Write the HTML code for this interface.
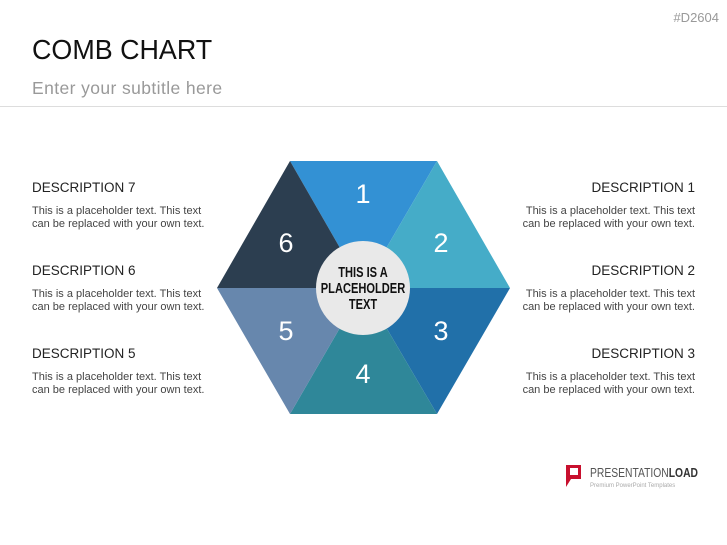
<!DOCTYPE html>
<html><head><meta charset="utf-8"><style>
body{margin:0;width:727px;height:545px;background:#fff;font-family:"Liberation Sans",sans-serif;position:relative;overflow:hidden}
.a{position:absolute;white-space:nowrap}
.h{font-size:13.5px;color:#222}
.p{font-size:11px;color:#444;line-height:13px}
.r{text-align:right}
</style></head><body>
<div class="a" style="right:8px;top:10px;font-size:13px;color:#999">#D2604</div>
<div class="a" style="left:32px;top:34px;font-size:28px;color:#111;transform:scaleX(0.96);transform-origin:left">COMB CHART</div>
<div class="a" style="left:32px;top:78px;font-size:17.5px;color:#999;letter-spacing:0.4px">Enter your subtitle here</div>
<div style="position:absolute;left:0;top:106px;width:727px;border-top:1px solid #ddd"></div>

<div class="a h" style="left:32px;top:180px">DESCRIPTION 7</div>
<div class="a p" style="left:32px;top:205px">This is a placeholder text. This text<br>can be replaced with your own text.</div>
<div class="a h" style="left:32px;top:263px">DESCRIPTION 6</div>
<div class="a p" style="left:32px;top:288px">This is a placeholder text. This text<br>can be replaced with your own text.</div>
<div class="a h" style="left:32px;top:346px">DESCRIPTION 5</div>
<div class="a p" style="left:32px;top:371px">This is a placeholder text. This text<br>can be replaced with your own text.</div>

<div class="a h r" style="right:32px;top:180px">DESCRIPTION 1</div>
<div class="a p r" style="right:32px;top:205px">This is a placeholder text. This text<br>can be replaced with your own text.</div>
<div class="a h r" style="right:32px;top:263px">DESCRIPTION 2</div>
<div class="a p r" style="right:32px;top:288px">This is a placeholder text. This text<br>can be replaced with your own text.</div>
<div class="a h r" style="right:32px;top:346px">DESCRIPTION 3</div>
<div class="a p r" style="right:32px;top:371px">This is a placeholder text. This text<br>can be replaced with your own text.</div>

<svg class="a" style="left:0;top:0" width="727" height="545">
<polygon points="363,288 290,161 437,161" fill="#3391d4"/>
<polygon points="363,288 437,161 510,288" fill="#45acc8"/>
<polygon points="363,288 510,288 437,414" fill="#2170a9"/>
<polygon points="363,288 437,414 290,414" fill="#2f8799"/>
<polygon points="363,288 290,414 217,288" fill="#6787ad"/>
<polygon points="363,288 217,288 290,161" fill="#2c3e50"/>
<g fill="#fff" font-family="Liberation Sans,sans-serif" font-size="27" text-anchor="middle">
<text x="363" y="203">1</text><text x="441" y="252">2</text><text x="441" y="340">3</text>
<text x="363" y="383">4</text><text x="286" y="340">5</text><text x="286" y="252">6</text></g>
<circle cx="363" cy="288" r="47" fill="#e9e9e9"/>
<g font-family="Liberation Sans,sans-serif" font-weight="bold" font-size="15" fill="#111" transform="translate(363,0) scale(0.74,1)" text-anchor="middle">
<text x="0" y="277">THIS IS A</text><text x="0" y="293">PLACEHOLDER</text><text x="0" y="309">TEXT</text></g>
<path d="M566,465 h15 v14 h-10 l-5,8 z" fill="#c8102e"/>
<rect x="570" y="468" width="8" height="7" fill="#fff"/>
<text x="590" y="477" font-family="Liberation Sans,sans-serif" font-size="13" fill="#555" textLength="108" lengthAdjust="spacingAndGlyphs">PRESENTATION<tspan font-weight="bold" fill="#333">LOAD</tspan></text>
<text x="590" y="487" font-family="Liberation Sans,sans-serif" font-size="6" fill="#aaa">Premium PowerPoint Templates</text>
</svg>
</body></html>
